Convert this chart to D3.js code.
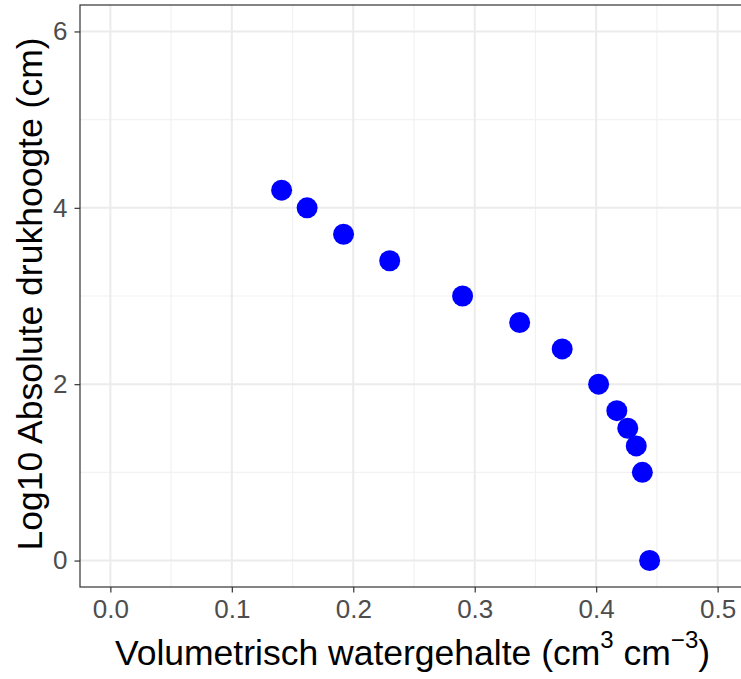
<!DOCTYPE html>
<html>
<head>
<meta charset="utf-8">
<script src="https://cdn.jsdelivr.net/npm/d3@7"></script>
<style>
  html, body { margin: 0; padding: 0; background: #fff; }
  svg { display: block; }
</style>
</head>
<body>
<svg id="chart" width="741" height="679"></svg>
<script>
const theta = [0.141, 0.162, 0.192, 0.230, 0.290, 0.337, 0.372, 0.402, 0.417, 0.426, 0.433, 0.438, 0.444];
const logH  = [4.2, 4.0, 3.7, 3.4, 3.0, 2.7, 2.4, 2.0, 1.7, 1.5, 1.3, 1.0, 0.0];
const xTicks = [0.0, 0.1, 0.2, 0.3, 0.4, 0.5];
const xMinor = [0.05, 0.15, 0.25, 0.35, 0.45];
const yTicks = [0, 2, 4, 6];
const yMinor = [1, 3, 5];

const svg = d3.select("#chart");
const W = 741, H = 679;
const panel = { left: 80, top: 5, right: 748, bottom: 587 };

const x = d3.scaleLinear().domain([-0.025, 0.525]).range([panel.left, panel.right]);
const y = d3.scaleLinear().domain([-0.3, 6.3]).range([panel.bottom, panel.top]);

svg.append("rect").attr("width", W).attr("height", H).attr("fill", "#fff");

const g = svg.append("g");
// minor grid
g.selectAll(".xminor").data(xMinor).enter().append("line")
  .attr("x1", d => x(d)).attr("x2", d => x(d)).attr("y1", panel.top).attr("y2", panel.bottom)
  .attr("stroke", "#F2F2F2").attr("stroke-width", 1.2);
g.selectAll(".yminor").data(yMinor).enter().append("line")
  .attr("y1", d => y(d)).attr("y2", d => y(d)).attr("x1", panel.left).attr("x2", panel.right)
  .attr("stroke", "#F2F2F2").attr("stroke-width", 1.2);
// major grid
g.selectAll(".xmajor").data(xTicks).enter().append("line")
  .attr("x1", d => x(d)).attr("x2", d => x(d)).attr("y1", panel.top).attr("y2", panel.bottom)
  .attr("stroke", "#EBEBEB").attr("stroke-width", 2);
g.selectAll(".ymajor").data(yTicks).enter().append("line")
  .attr("y1", d => y(d)).attr("y2", d => y(d)).attr("x1", panel.left).attr("x2", panel.right)
  .attr("stroke", "#EBEBEB").attr("stroke-width", 2);

// points
g.selectAll("circle").data(theta.map((t, i) => [t, logH[i]])).enter().append("circle")
  .attr("cx", d => x(d[0])).attr("cy", d => y(d[1])).attr("r", 10.5).attr("fill", "#0000FF");

// panel border
svg.append("rect").attr("x", panel.left).attr("y", panel.top)
  .attr("width", panel.right - panel.left).attr("height", panel.bottom - panel.top)
  .attr("fill", "none").attr("stroke", "#333333").attr("stroke-width", 1.2);

// axes
const font = "'Liberation Sans', Arial, sans-serif";
const xAxis = svg.append("g").attr("transform", `translate(0,${panel.bottom})`)
  .call(d3.axisBottom(x).tickValues(xTicks).tickFormat(d3.format(".1f")).tickSize(5.5).tickPadding(7.5));
const yAxis = svg.append("g").attr("transform", `translate(${panel.left},0)`)
  .call(d3.axisLeft(y).tickValues(yTicks).tickFormat(d3.format("d")).tickSize(5.5).tickPadding(7));
[xAxis, yAxis].forEach(a => {
  a.select(".domain").remove();
  a.selectAll(".tick line").attr("stroke", "#333333").attr("stroke-width", 1.2);
  a.selectAll(".tick text").attr("fill", "#4D4D4D").style("font-family", font).style("font-size", "26px");
});

// x title
const xt = svg.append("text").attr("x", 412.5).attr("y", 665).attr("text-anchor", "middle")
  .style("font-family", font).style("font-size", "35.5px").attr("fill", "#000");
xt.append("tspan").text("Volumetrisch watergehalte (cm");
xt.append("tspan").attr("dy", -17).style("font-size", "24px").text("3");
xt.append("tspan").attr("dy", 17).text(" cm");
xt.append("tspan").attr("dy", -17).style("font-size", "24px").text("\u22123");
xt.append("tspan").attr("dy", 17).text(")");

// y title
svg.append("text").attr("transform", `translate(42,294) rotate(-90)`)
  .attr("text-anchor", "middle").style("font-family", font).style("font-size", "35.5px").attr("fill", "#000")
  .text("Log10 Absolute drukhoogte (cm)");
</script>
</body>
</html>
